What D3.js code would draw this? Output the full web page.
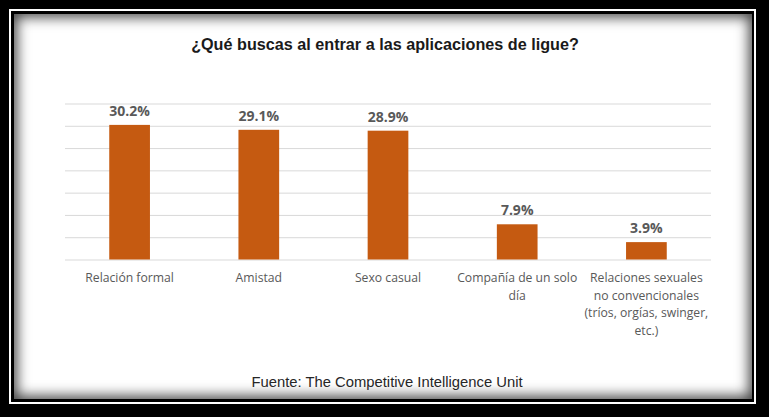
<!DOCTYPE html>
<html>
<head>
<meta charset="utf-8">
<script src="https://cdn.jsdelivr.net/npm/d3@7"></script>
<style>
  html, body { margin:0; padding:0; background:#000; width:769px; height:417px; overflow:hidden; }
  #outline { position:absolute; left:9px; top:9px; width:747px; height:395px; box-sizing:border-box; border:2px solid #fff; }
  #content { position:absolute; left:14px; top:14px; width:738px; height:385px; background:#fff;
             box-shadow: inset 0 0 13px 3px rgba(0,0,0,0.75); }
  svg { position:absolute; left:0; top:0; }
</style>
</head>
<body>
<div id="outline"></div>
<div id="content"></div>
<script>
const title = "¿Qué buscas al entrar a las aplicaciones de ligue?";
const source = "Fuente: The Competitive Intelligence Unit";
const categories = ["Relación formal", "Amistad", "Sexo casual", "Compañía de un solo día", "Relaciones sexuales no convencionales (tríos, orgías, swinger, etc.)"];
const categoryLines = [
  ["Relación formal"],
  ["Amistad"],
  ["Sexo casual"],
  ["Compañía de un solo", "día"],
  ["Relaciones sexuales", "no convencionales", "(tríos, orgías, swinger,", "etc.)"]
];
const values = [30.2, 29.1, 28.9, 7.9, 3.9];
const yTicks = [0, 5, 10, 15, 20, 25, 30, 35];

const W = 769, H = 417;
const svg = d3.select("body").append("svg").attr("width", W).attr("height", H);

const x = d3.scaleBand().domain(categories).range([65, 711]).paddingInner(0.685).paddingOuter(0.3425);
const y = d3.scaleLinear().domain([0, 35]).range([259.5, 103.5]);

// gridlines
const grid = svg.append("g").attr("transform", "translate(65,0)")
  .call(d3.axisLeft(y).tickValues(yTicks).tickSize(-646).tickFormat(""));
grid.select(".domain").remove();
grid.selectAll(".tick line").attr("stroke", "#d9d9d9").attr("stroke-width", 1);

// bars
svg.append("g").selectAll("rect").data(values).join("rect")
  .attr("x", (d, i) => x(categories[i]))
  .attr("width", x.bandwidth())
  .attr("y", d => y(d))
  .attr("height", d => y(0) - y(d))
  .attr("fill", "#C55A11");

// value labels
svg.append("g").selectAll("text").data(values).join("text")
  .attr("x", (d, i) => x(categories[i]) + x.bandwidth() / 2)
  .attr("y", d => y(d) - 9)
  .attr("text-anchor", "middle")
  .attr("font-family", "'Open Sans', sans-serif")
  .attr("font-weight", "bold")
  .attr("font-size", 14)
  .attr("fill", "#595959")
  .text(d => d.toFixed(1) + "%");

// category labels
const cl = svg.append("g").selectAll("text").data(categories).join("text")
  .attr("text-anchor", "middle")
  .attr("font-family", "'Open Sans', sans-serif")
  .attr("font-size", 12.2)
  .attr("fill", "#595959");
cl.each(function(c, i) {
  const t = d3.select(this);
  categoryLines[i].forEach((line, j) => {
    t.append("tspan")
      .attr("x", x(c) + x.bandwidth() / 2)
      .attr("y", 282 + j * 17.5)
      .text(line);
  });
});

// title
svg.append("text")
  .attr("x", 385).attr("y", 50)
  .attr("text-anchor", "middle")
  .attr("font-family", "'Liberation Sans', Arial, sans-serif")
  .attr("font-weight", "bold")
  .attr("font-size", 16.2)
  .attr("fill", "#1a1a1a")
  .text(title);

// source
svg.append("text")
  .attr("x", 387).attr("y", 387)
  .attr("text-anchor", "middle")
  .attr("font-family", "'Liberation Sans', Arial, sans-serif")
  .attr("font-size", 14.8)
  .attr("fill", "#262626")
  .text(source);
</script>
</body>
</html>
